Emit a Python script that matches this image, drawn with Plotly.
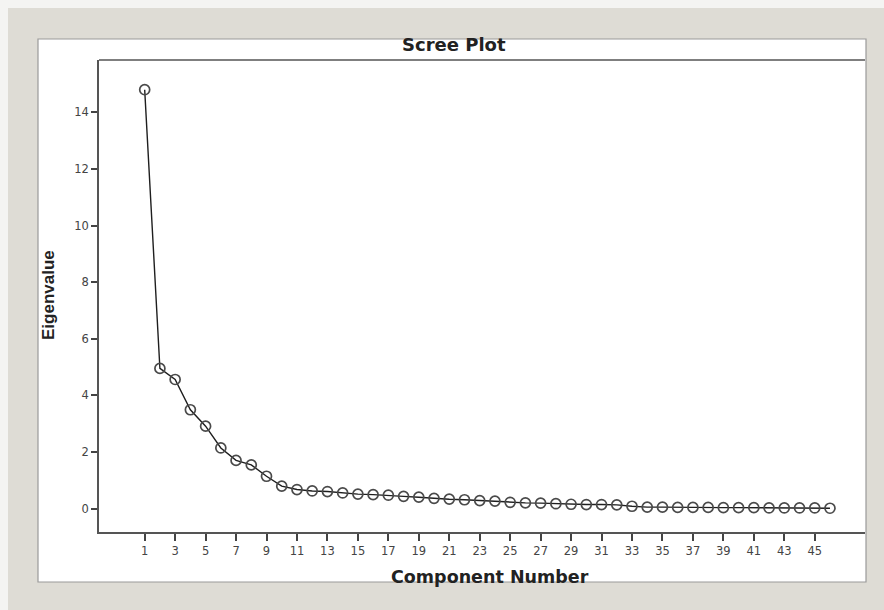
import plotly.graph_objects as go

components = list(range(1, 47))
eigenvalues = [14.8, 4.95, 4.56, 3.49, 2.91, 2.14, 1.70, 1.54, 1.14, 0.79,
               0.67, 0.62, 0.60, 0.55, 0.51, 0.49, 0.47, 0.43, 0.40, 0.36,
               0.33, 0.31, 0.28, 0.26, 0.22, 0.20, 0.19, 0.17, 0.15, 0.14,
               0.14, 0.13, 0.08, 0.05, 0.05, 0.04, 0.04, 0.04, 0.03, 0.03,
               0.03, 0.02, 0.02, 0.02, 0.02, 0.01]
x_ticks = list(range(1, 46, 2))
y_ticks = list(range(0, 15, 2))

W, H = 884, 610
L, R, T, B = 99, 19, 60, 78

# paper coords relative to plot domain, from pixel positions
def dx(x):
    return (x - L) / (W - L - R)
def dy(y):
    return 1 - (y - T) / (H - T - B)

fig = go.Figure()
fig.add_trace(go.Scatter(
    x=components, y=eigenvalues, mode="lines+markers",
    line=dict(color="#1e1e1e", width=1.4),
    marker=dict(symbol="circle-open", size=10, color="#4a4a4a", line=dict(width=1.7)),
    showlegend=False, cliponaxis=False,
))

shapes = [
    # outer gray frame
    dict(type="rect", xref="paper", yref="paper", x0=dx(8), x1=dx(884), y0=dy(610), y1=dy(8),
         fillcolor="#dedcd5", line=dict(width=0), layer="below"),
    # inner white panel
    dict(type="rect", xref="paper", yref="paper", x0=dx(38), x1=dx(866), y0=dy(582), y1=dy(39),
         fillcolor="#ffffff", line=dict(width=1.2, color="#9a9a9a"), layer="below"),
]

tick_font = dict(family="DejaVu Sans", size=11.5, color="#444444")

fig.update_layout(
    width=W, height=H,
    margin=dict(l=L, r=R, t=T, b=B, pad=0),
    paper_bgcolor="#f4f4f2",
    plot_bgcolor="#ffffff",
    font=dict(family="Liberation Sans, Arial", color="#333333"),
    shapes=shapes,
    xaxis=dict(range=[-2.0, 48.3], tickvals=x_ticks, ticks="outside", ticklen=7,
               tickwidth=1.5, tickcolor="#444444", showgrid=False, zeroline=False,
               showline=True, linecolor="#555555", linewidth=1.8, mirror=False,
               tickfont=tick_font),
    yaxis=dict(range=[-0.83, 15.85], tickvals=y_ticks, ticks="outside", ticklen=6,
               tickwidth=1.5, tickcolor="#444444", showgrid=False, zeroline=False,
               showline=True, linecolor="#555555", linewidth=1.8,
               tickfont=tick_font),
    annotations=[
        dict(text="<b>Scree Plot</b>", xref="paper", yref="paper", x=dx(454), y=dy(45),
             showarrow=False, font=dict(family="DejaVu Sans", size=18, color="#222222"),
             xanchor="center", yanchor="middle"),
        dict(text="<b>Eigenvalue</b>", xref="paper", yref="paper", x=dx(48), y=dy(295),
             showarrow=False, textangle=-90,
             font=dict(family="Liberation Sans, Arial", size=17, color="#222222"),
             xanchor="center", yanchor="middle"),
        dict(text="<b>Component Number</b>", xref="paper", yref="paper", x=dx(490), y=dy(577),
             showarrow=False, font=dict(family="DejaVu Sans", size=17.5, color="#222222"),
             xanchor="center", yanchor="middle"),
    ],
)
# top border line of the plot area
fig.add_shape(type="line", xref="paper", yref="paper", x0=0, x1=1, y0=1, y1=1,
              line=dict(color="#555555", width=1.5))

fig.write_html("out.html", config={"displayModeBar": False},
               post_script="document.body.style.margin='0';")
